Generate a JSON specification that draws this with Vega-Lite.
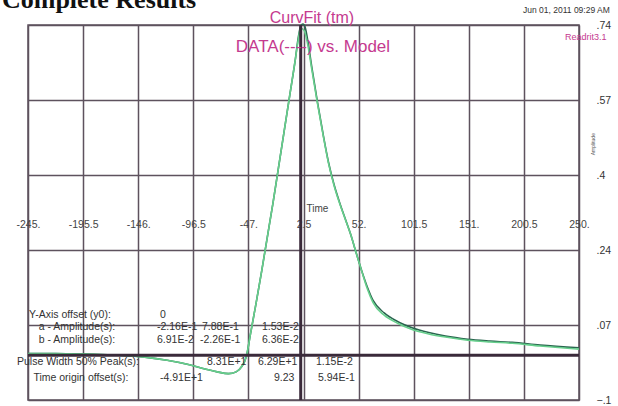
{
  "$schema": "https://vega.github.io/schema/vega-lite/v6.json",
  "width": 551,
  "height": 375,
  "autosize": "none",
  "padding": {"left": 28, "top": 25, "right": 39, "bottom": 6},
  "background": "white",
  "config": {"view": {"stroke": "#5e525e", "strokeWidth": 1.5}, "font": "Liberation Sans"},
  "data": {"values": [{}]},
  "datasets": {
    "curves": [
      {"series": "Data", "t": -245, "amp": 0.004},
      {"series": "Data", "t": -220, "amp": 0.004},
      {"series": "Data", "t": -200, "amp": 0.003},
      {"series": "Data", "t": -180, "amp": 0.002},
      {"series": "Data", "t": -160, "amp": 0.0},
      {"series": "Data", "t": -140, "amp": -0.004},
      {"series": "Data", "t": -120, "amp": -0.011},
      {"series": "Data", "t": -100, "amp": -0.021},
      {"series": "Data", "t": -85, "amp": -0.031},
      {"series": "Data", "t": -75, "amp": -0.037},
      {"series": "Data", "t": -65, "amp": -0.041},
      {"series": "Data", "t": -58, "amp": -0.037},
      {"series": "Data", "t": -53, "amp": -0.025},
      {"series": "Data", "t": -49, "amp": -0.004},
      {"series": "Data", "t": -45, "amp": 0.05},
      {"series": "Data", "t": -40, "amp": 0.118},
      {"series": "Data", "t": -35, "amp": 0.19},
      {"series": "Data", "t": -30, "amp": 0.265},
      {"series": "Data", "t": -25, "amp": 0.34},
      {"series": "Data", "t": -20, "amp": 0.42},
      {"series": "Data", "t": -15, "amp": 0.5},
      {"series": "Data", "t": -10, "amp": 0.58},
      {"series": "Data", "t": -5, "amp": 0.66},
      {"series": "Data", "t": -2, "amp": 0.715},
      {"series": "Data", "t": 0, "amp": 0.738},
      {"series": "Data", "t": 2, "amp": 0.742},
      {"series": "Data", "t": 4, "amp": 0.735},
      {"series": "Data", "t": 6, "amp": 0.71},
      {"series": "Data", "t": 10, "amp": 0.645},
      {"series": "Data", "t": 15, "amp": 0.568},
      {"series": "Data", "t": 20, "amp": 0.497},
      {"series": "Data", "t": 25, "amp": 0.432},
      {"series": "Data", "t": 30, "amp": 0.382},
      {"series": "Data", "t": 35, "amp": 0.342},
      {"series": "Data", "t": 40, "amp": 0.306},
      {"series": "Data", "t": 45, "amp": 0.27},
      {"series": "Data", "t": 50, "amp": 0.228},
      {"series": "Data", "t": 55, "amp": 0.188},
      {"series": "Data", "t": 60, "amp": 0.152},
      {"series": "Data", "t": 65, "amp": 0.123},
      {"series": "Data", "t": 75, "amp": 0.095},
      {"series": "Data", "t": 87, "amp": 0.076},
      {"series": "Data", "t": 100, "amp": 0.062},
      {"series": "Data", "t": 115, "amp": 0.051},
      {"series": "Data", "t": 130, "amp": 0.043},
      {"series": "Data", "t": 150, "amp": 0.036},
      {"series": "Data", "t": 170, "amp": 0.032},
      {"series": "Data", "t": 190, "amp": 0.029},
      {"series": "Data", "t": 215, "amp": 0.023},
      {"series": "Data", "t": 250, "amp": 0.017},
      {"series": "Model", "t": -245, "amp": 0.004},
      {"series": "Model", "t": -220, "amp": 0.004},
      {"series": "Model", "t": -200, "amp": 0.003},
      {"series": "Model", "t": -180, "amp": 0.002},
      {"series": "Model", "t": -160, "amp": 0.0},
      {"series": "Model", "t": -140, "amp": -0.004},
      {"series": "Model", "t": -120, "amp": -0.011},
      {"series": "Model", "t": -100, "amp": -0.021},
      {"series": "Model", "t": -85, "amp": -0.031},
      {"series": "Model", "t": -75, "amp": -0.037},
      {"series": "Model", "t": -65, "amp": -0.041},
      {"series": "Model", "t": -58, "amp": -0.037},
      {"series": "Model", "t": -53, "amp": -0.025},
      {"series": "Model", "t": -49, "amp": -0.004},
      {"series": "Model", "t": -45, "amp": 0.05},
      {"series": "Model", "t": -40, "amp": 0.118},
      {"series": "Model", "t": -35, "amp": 0.19},
      {"series": "Model", "t": -30, "amp": 0.265},
      {"series": "Model", "t": -25, "amp": 0.34},
      {"series": "Model", "t": -20, "amp": 0.42},
      {"series": "Model", "t": -15, "amp": 0.5},
      {"series": "Model", "t": -10, "amp": 0.58},
      {"series": "Model", "t": -5, "amp": 0.66},
      {"series": "Model", "t": -2, "amp": 0.71},
      {"series": "Model", "t": 0, "amp": 0.733},
      {"series": "Model", "t": 3, "amp": 0.728},
      {"series": "Model", "t": 6, "amp": 0.7},
      {"series": "Model", "t": 10, "amp": 0.64},
      {"series": "Model", "t": 15, "amp": 0.565},
      {"series": "Model", "t": 20, "amp": 0.495},
      {"series": "Model", "t": 25, "amp": 0.43},
      {"series": "Model", "t": 30, "amp": 0.38},
      {"series": "Model", "t": 35, "amp": 0.34},
      {"series": "Model", "t": 40, "amp": 0.305},
      {"series": "Model", "t": 45, "amp": 0.27},
      {"series": "Model", "t": 50, "amp": 0.228},
      {"series": "Model", "t": 55, "amp": 0.187},
      {"series": "Model", "t": 60, "amp": 0.148},
      {"series": "Model", "t": 65, "amp": 0.118},
      {"series": "Model", "t": 75, "amp": 0.09},
      {"series": "Model", "t": 87, "amp": 0.072},
      {"series": "Model", "t": 100, "amp": 0.058},
      {"series": "Model", "t": 115, "amp": 0.048},
      {"series": "Model", "t": 130, "amp": 0.041},
      {"series": "Model", "t": 150, "amp": 0.034},
      {"series": "Model", "t": 170, "amp": 0.03},
      {"series": "Model", "t": 190, "amp": 0.027},
      {"series": "Model", "t": 215, "amp": 0.021},
      {"series": "Model", "t": 250, "amp": 0.014}
    ]
  },
  "layer": [
    {
      "data": {"name": "curves"},
      "mark": {"type": "line", "strokeWidth": 1.6, "interpolate": "monotone"},
      "encoding": {
        "x": {
          "field": "t", "type": "quantitative",
          "scale": {"domain": [-245, 250], "nice": false, "zero": false},
          "axis": {
            "orient": "bottom", "offset": -187,
            "values": [-245, -195.5, -146, -96.5, -47, 2.5, 52, 101.5, 151, 200.5, 250],
            "labelExpr": "datum.value % 1 == 0 ? datum.value + '.' : '' + datum.value",
            "domain": false, "ticks": false,
            "grid": true, "gridColor": "#5e525e", "gridWidth": 1.5, "gridOpacity": 1,
            "labelFontSize": 10.5, "labelColor": "#444444", "labelPadding": 6,
            "labelFlush": false, "labelOverlap": false,
            "title": "Time", "titleFontSize": 10, "titleFontWeight": "normal", "titleColor": "#444444",
            "titleX": 289, "titleY": -2, "titleBaseline": "alphabetic", "titleAlign": "center"
          }
        },
        "y": {
          "field": "amp", "type": "quantitative",
          "scale": {"domain": [-0.1, 0.74], "nice": false, "zero": false},
          "axis": {
            "orient": "right",
            "values": [-0.1, 0.068, 0.236, 0.404, 0.572, 0.74],
            "labelExpr": "replace(format(datum.value, '.2~f'), '0.', '.')",
            "domain": false, "ticks": false,
            "grid": true, "gridColor": "#5e525e", "gridWidth": 1.5, "gridOpacity": 1,
            "labelFontSize": 10.5, "labelColor": "#333333", "labelPadding": 17,
            "labelFlush": false, "labelBaseline": "middle", "labelOverlap": false,
            "title": null
          }
        },
        "color": {
          "field": "series", "type": "nominal",
          "scale": {"domain": ["Data", "Model"], "range": ["#2b6650", "#66cf8c"]},
          "legend": null
        }
      }
    },
    {"mark": {"type": "rule", "color": "#3a2a3a", "strokeWidth": 3}, "encoding": {"x": {"datum": 0}}},
    {"mark": {"type": "rule", "color": "#3a2a3a", "strokeWidth": 3}, "encoding": {"y": {"datum": 0}}},
    {"mark": {"type": "text", "align": "left", "baseline": "alphabetic", "fontSize": 26, "font": "Liberation Serif", "fontWeight": "bold", "color": "#111111"},
     "encoding": {"x": {"datum": -268.4}, "y": {"datum": 0.778}, "text": {"value": "Complete Results"}}},
    {"mark": {"type": "text", "align": "center", "baseline": "middle", "fontSize": 16, "color": "#c53a8f"},
     "encoding": {"x": {"datum": 10.1}, "y": {"datum": 0.756}, "text": {"value": "CurvFit (tm)"}}},
    {"mark": {"type": "text", "align": "center", "baseline": "middle", "fontSize": 17, "color": "#c53a8f"},
     "encoding": {"x": {"datum": 11.0}, "y": {"datum": 0.691}, "text": {"value": "DATA(----) vs. Model"}}},
    {"mark": {"type": "text", "align": "left", "baseline": "middle", "fontSize": 8.5, "color": "#333333"},
     "encoding": {"x": {"datum": 199.7}, "y": {"datum": 0.774}, "text": {"value": "Jun 01, 2011 09:29 AM"}}},
    {"mark": {"type": "text", "align": "left", "baseline": "middle", "fontSize": 9, "color": "#c53a8f"},
     "encoding": {"x": {"datum": 237.4}, "y": {"datum": 0.713}, "text": {"value": "Readrit3.1"}}},
    {"mark": {"type": "text", "align": "center", "baseline": "middle", "fontSize": 5, "angle": 270, "color": "#555555"},
     "encoding": {"x": {"datum": 262.6}, "y": {"datum": 0.473}, "text": {"value": "Amplitude"}}},
    {"mark": {"type": "text", "align": "center", "baseline": "middle", "fontSize": 10.5, "color": "#333333"},
     "encoding": {"x": {"datum": -207.3}, "y": {"datum": 0.0904}, "text": {"value": "Y-Axis offset (y0):"}}},
    {"mark": {"type": "text", "align": "center", "baseline": "middle", "fontSize": 10.5, "color": "#333333"},
     "encoding": {"x": {"datum": -201}, "y": {"datum": 0.0635}, "text": {"value": "a - Amplitude(s):"}}},
    {"mark": {"type": "text", "align": "center", "baseline": "middle", "fontSize": 10.5, "color": "#333333"},
     "encoding": {"x": {"datum": -201}, "y": {"datum": 0.0344}, "text": {"value": "b - Amplitude(s):"}}},
    {"mark": {"type": "text", "align": "center", "baseline": "middle", "fontSize": 10.5, "color": "#333333"},
     "encoding": {"x": {"datum": -200.1}, "y": {"datum": -0.0149}, "text": {"value": "Pulse Width 50% Peak(s):"}}},
    {"mark": {"type": "text", "align": "center", "baseline": "middle", "fontSize": 10.5, "color": "#333333"},
     "encoding": {"x": {"datum": -197.4}, "y": {"datum": -0.0507}, "text": {"value": "Time origin offset(s):"}}},
    {"mark": {"type": "text", "align": "left", "baseline": "middle", "fontSize": 10.5, "color": "#333333"},
     "encoding": {"x": {"datum": -126.4}, "y": {"datum": 0.0904}, "text": {"value": "0"}}},
    {"mark": {"type": "text", "align": "left", "baseline": "middle", "fontSize": 10.5, "color": "#333333"},
     "encoding": {"x": {"datum": -129.1}, "y": {"datum": 0.0635}, "text": {"value": "-2.16E-1"}}},
    {"mark": {"type": "text", "align": "left", "baseline": "middle", "fontSize": 10.5, "color": "#333333"},
     "encoding": {"x": {"datum": -88.7}, "y": {"datum": 0.0635}, "text": {"value": "7.88E-1"}}},
    {"mark": {"type": "text", "align": "left", "baseline": "middle", "fontSize": 10.5, "color": "#333333"},
     "encoding": {"x": {"datum": -34.8}, "y": {"datum": 0.0635}, "text": {"value": "1.53E-2"}}},
    {"mark": {"type": "text", "align": "left", "baseline": "middle", "fontSize": 10.5, "color": "#333333"},
     "encoding": {"x": {"datum": -129.1}, "y": {"datum": 0.0344}, "text": {"value": "6.91E-2"}}},
    {"mark": {"type": "text", "align": "left", "baseline": "middle", "fontSize": 10.5, "color": "#333333"},
     "encoding": {"x": {"datum": -90.5}, "y": {"datum": 0.0344}, "text": {"value": "-2.26E-1"}}},
    {"mark": {"type": "text", "align": "left", "baseline": "middle", "fontSize": 10.5, "color": "#333333"},
     "encoding": {"x": {"datum": -34.8}, "y": {"datum": 0.0344}, "text": {"value": "6.36E-2"}}},
    {"mark": {"type": "text", "align": "left", "baseline": "middle", "fontSize": 10.5, "color": "#333333"},
     "encoding": {"x": {"datum": -84.2}, "y": {"datum": -0.0149}, "text": {"value": "8.31E+1"}}},
    {"mark": {"type": "text", "align": "left", "baseline": "middle", "fontSize": 10.5, "color": "#333333"},
     "encoding": {"x": {"datum": -38.4}, "y": {"datum": -0.0149}, "text": {"value": "6.29E+1"}}},
    {"mark": {"type": "text", "align": "left", "baseline": "middle", "fontSize": 10.5, "color": "#333333"},
     "encoding": {"x": {"datum": 13.7}, "y": {"datum": -0.0149}, "text": {"value": "1.15E-2"}}},
    {"mark": {"type": "text", "align": "left", "baseline": "middle", "fontSize": 10.5, "color": "#333333"},
     "encoding": {"x": {"datum": -126.4}, "y": {"datum": -0.0507}, "text": {"value": "-4.91E+1"}}},
    {"mark": {"type": "text", "align": "left", "baseline": "middle", "fontSize": 10.5, "color": "#333333"},
     "encoding": {"x": {"datum": -24.0}, "y": {"datum": -0.0507}, "text": {"value": "9.23"}}},
    {"mark": {"type": "text", "align": "left", "baseline": "middle", "fontSize": 10.5, "color": "#333333"},
     "encoding": {"x": {"datum": 15.5}, "y": {"datum": -0.0507}, "text": {"value": "5.94E-1"}}}
  ]
}
